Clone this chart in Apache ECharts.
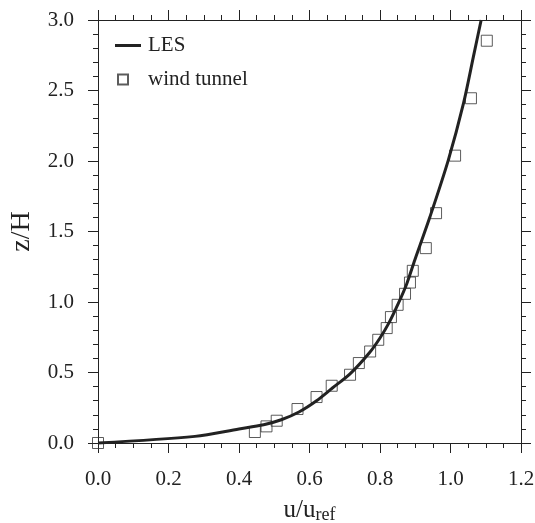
<!DOCTYPE html>
<html>
<head>
<meta charset="utf-8">
<script src="https://cdn.jsdelivr.net/npm/echarts@6/dist/echarts.min.js"></script>
<style>html,body{margin:0;padding:0;background:#fff}#c{width:535px;height:523px}</style>
</head>
<body>
<div id="c"></div>
<script>
const lesU = [0, 0.275, 0.40, 0.47, 0.52, 0.57, 0.62, 0.665, 0.715, 0.77, 0.80, 0.825, 0.852, 0.876, 0.899, 0.942, 0.994, 1.037, 1.065, 1.087];
const lesZ = [0, 0.047, 0.10, 0.13, 0.165, 0.22, 0.30, 0.39, 0.49, 0.64, 0.745, 0.85, 0.99, 1.13, 1.30, 1.606, 2.008, 2.41, 2.74, 3.0];
const wtU = [0, 0.445, 0.478, 0.507, 0.566, 0.620, 0.663, 0.715, 0.740, 0.772, 0.795, 0.819, 0.831, 0.850, 0.871, 0.885, 0.893, 0.930, 0.959, 1.013, 1.058, 1.103];
const wtZ = [0, 0.078, 0.118, 0.158, 0.241, 0.326, 0.406, 0.484, 0.567, 0.649, 0.732, 0.815, 0.893, 0.980, 1.058, 1.138, 1.221, 1.382, 1.630, 2.038, 2.445, 2.853];
const xTicks = {min: 0, max: 1.2, interval: 0.2};
const yTicks = {min: 0, max: 3.0, interval: 0.5};

const FONT = 'Liberation Serif';
const INK = '#222';
const lesData = lesU.map((u, i) => [u, lesZ[i]]);
const wtData = wtU.map((u, i) => [u, wtZ[i]]);

function axisBase(extra) {
  return Object.assign({
    type: 'value',
    axisLine: {show: true, onZero: false, lineStyle: {color: INK, width: 1}},
    axisTick: {show: true, inside: false, length: 10, lineStyle: {color: INK, width: 1}},
    splitLine: {show: false},
    minorSplitLine: {show: false}
  }, extra);
}

const chart = echarts.init(document.getElementById('c'), null, {renderer: 'canvas'});
chart.setOption({
  animation: false,
  backgroundColor: '#fff',
  grid: {left: 98, right: 14, top: 20, bottom: 80, containLabel: false, outerBoundsMode: 'none'},
  legend: [
    {
      data: [{name: 'LES', icon: 'rect', itemStyle: {color: INK}}],
      orient: 'vertical', left: 115, top: 35, padding: 0,
      itemWidth: 26, itemHeight: 3,
      textStyle: {fontFamily: FONT, fontSize: 21, color: INK, padding: [0, 0, 0, 2]}
    },
    {
      data: ['wind tunnel'], orient: 'vertical', left: 117, top: 69, padding: 0,
      itemWidth: 10, itemHeight: 10,
      textStyle: {fontFamily: FONT, fontSize: 21, color: INK, padding: [0, 0, 0, 15]}
    }
  ],
  xAxis: [
    axisBase({
      position: 'bottom', min: xTicks.min, max: xTicks.max, interval: xTicks.interval,
      minorTick: {show: true, splitNumber: 4, length: 5, lineStyle: {color: INK, width: 1}},
      axisLabel: {show: true, margin: 26, fontFamily: FONT, fontSize: 21, color: INK,
        formatter: v => v.toFixed(1)},
      name: 'u/u{s|ref}', nameLocation: 'middle', nameGap: 53,
      nameTextStyle: {fontFamily: FONT, fontSize: 25, color: INK,
        rich: {s: {fontFamily: FONT, fontSize: 18, color: INK, verticalAlign: 'bottom', padding: [10, 0, 0, 0]}}}
    }),
    axisBase({
      position: 'top', min: xTicks.min, max: xTicks.max, interval: xTicks.interval,
      minorTick: {show: true, splitNumber: 4, length: 5, lineStyle: {color: INK, width: 1}},
      axisLabel: {show: false}
    })
  ],
  yAxis: [
    axisBase({
      position: 'left', min: yTicks.min, max: yTicks.max, interval: yTicks.interval,
      minorTick: {show: true, splitNumber: 5, length: 5, lineStyle: {color: INK, width: 1}},
      axisLabel: {show: true, margin: 24, fontFamily: FONT, fontSize: 21, color: INK,
        formatter: v => v.toFixed(1)},
      name: 'z/H', nameLocation: 'middle', nameGap: 62, nameRotate: 90,
      nameTextStyle: {fontFamily: FONT, fontSize: 28, color: INK}
    }),
    axisBase({
      position: 'right', min: yTicks.min, max: yTicks.max, interval: yTicks.interval,
      minorTick: {show: true, splitNumber: 5, length: 5, lineStyle: {color: INK, width: 1}},
      axisLabel: {show: false}
    })
  ],
  series: [
    {
      name: 'LES', type: 'line', data: lesData, xAxisIndex: 0, yAxisIndex: 0,
      symbol: 'none', smooth: 0.3, clip: false,
      lineStyle: {color: INK, width: 3},
      itemStyle: {color: INK}
    },
    {
      name: 'wind tunnel', type: 'scatter', data: wtData, xAxisIndex: 0, yAxisIndex: 0,
      symbol: 'rect', symbolSize: 11, clip: false,
      itemStyle: {color: 'rgba(0,0,0,0)', borderColor: '#333', borderWidth: 1}
    }
  ]
});
</script>
</body>
</html>
